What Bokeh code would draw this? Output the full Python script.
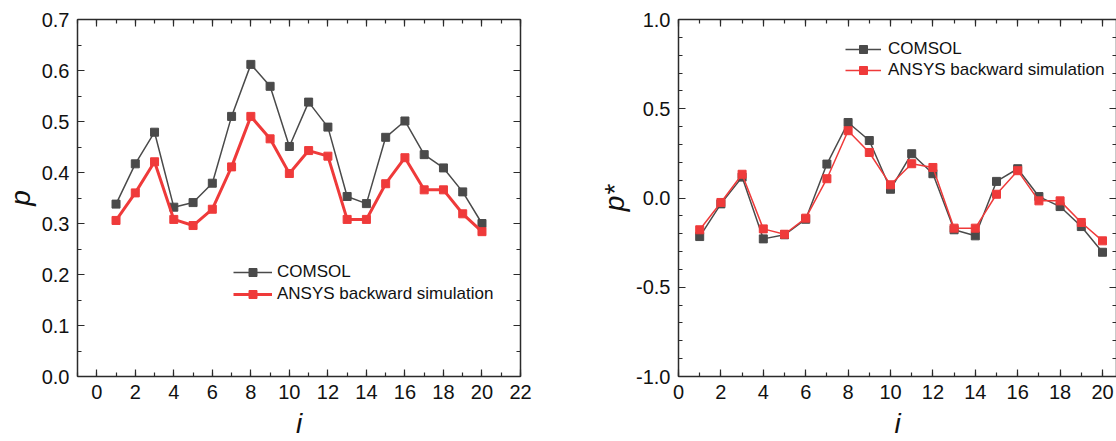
from bokeh.plotting import figure
from bokeh.layouts import row
from bokeh.models import LinearAxis, FixedTicker, NumeralTickFormatter, Range1d, Legend
from bokeh.embed import file_html
from bokeh.resources import INLINE

i_vals = list(range(1, 21))
p_comsol = [0.338, 0.417, 0.479, 0.332, 0.341, 0.379, 0.510, 0.612, 0.569, 0.451,
            0.538, 0.489, 0.353, 0.339, 0.469, 0.501, 0.435, 0.409, 0.362, 0.300]
p_ansys = [0.306, 0.360, 0.421, 0.308, 0.296, 0.328, 0.411, 0.510, 0.466, 0.398,
           0.443, 0.432, 0.308, 0.308, 0.378, 0.429, 0.366, 0.366, 0.319, 0.284]
ps_comsol = [-0.216, -0.033, 0.117, -0.229, -0.206, -0.119, 0.190, 0.423, 0.322, 0.049,
             0.248, 0.136, -0.178, -0.212, 0.093, 0.164, 0.008, -0.048, -0.160, -0.304]
ps_ansys = [-0.178, -0.025, 0.133, -0.173, -0.203, -0.113, 0.108, 0.377, 0.255, 0.074,
            0.192, 0.171, -0.169, -0.169, 0.021, 0.153, -0.016, -0.016, -0.137, -0.240]

left_yticks = [0.0, 0.1, 0.2, 0.3, 0.4, 0.5, 0.6, 0.7]
right_yticks = [-1.0, -0.5, 0.0, 0.5, 1.0]
xticks = [0, 2, 4, 6, 8, 10, 12, 14, 16, 18, 20, 22]

FONT = "Liberation Sans"
GRAY = "#4a4a4a"
RED = "#ef3a3a"
AXC = "#2b2b2b"


def style_axis(ax, show_labels=True):
    ax.axis_line_color = AXC
    ax.axis_line_width = 1.5
    ax.major_tick_line_color = AXC
    ax.minor_tick_line_color = AXC
    ax.major_tick_line_width = 1.2
    ax.minor_tick_line_width = 1.2
    ax.major_tick_in = 7
    ax.major_tick_out = 0
    ax.minor_tick_in = 4
    ax.minor_tick_out = 0
    ax.major_label_text_font = FONT
    if show_labels:
        ax.major_label_text_color = "#111111"
        ax.major_label_text_font_size = "20px"
        ax.major_label_standoff = 8
    else:
        ax.major_label_text_color = None
        ax.major_label_text_font_size = "1px"
        ax.major_label_standoff = 0


def make_panel(width, mb_left, mb_right, xr, yr, yticks, yminor, yfmt, ylabel,
               comsol, ansys, ansys_lw, leg_loc, glyph_w, standoff, spacing):
    p = figure(width=width, height=441, output_backend="svg", toolbar_location=None,
               x_range=Range1d(*xr), y_range=Range1d(*yr),
               min_border_left=mb_left, min_border_right=mb_right,
               min_border_top=19, min_border_bottom=10)
    p.outline_line_color = None
    p.grid.visible = False
    p.background_fill_color = "white"
    p.border_fill_color = "white"

    xt = FixedTicker(ticks=xticks, minor_ticks=list(range(-1, 24)))
    yt = FixedTicker(ticks=yticks, minor_ticks=yminor)

    p.xaxis.ticker = xt
    p.yaxis.ticker = yt
    p.yaxis.formatter = NumeralTickFormatter(format=yfmt)
    for ax in p.xaxis + p.yaxis:
        style_axis(ax)
    p.xaxis.axis_label = "i"
    p.yaxis.axis_label = ylabel
    for ax in p.xaxis + p.yaxis:
        ax.axis_label_text_font = FONT
        ax.axis_label_text_font_style = "italic"
        ax.axis_label_text_font_size = "28px"
        ax.axis_label_text_color = "#111111"
        ax.axis_label_standoff = 3
    p.xaxis.axis_label_standoff = 6

    top = LinearAxis(ticker=xt)
    style_axis(top, show_labels=False)
    p.add_layout(top, "above")
    right = LinearAxis(ticker=yt)
    style_axis(right, show_labels=False)
    p.add_layout(right, "right")

    r1 = p.line(i_vals, comsol, line_color=GRAY, line_width=1.5)
    s1 = p.scatter(i_vals, comsol, marker="square", size=8, fill_color=GRAY, line_color=GRAY)
    r2 = p.line(i_vals, ansys, line_color=RED, line_width=ansys_lw)
    s2 = p.scatter(i_vals, ansys, marker="square", size=8, fill_color=RED, line_color=RED)

    leg = Legend(items=[("COMSOL", [r1, s1]), ("ANSYS backward simulation", [r2, s2])],
                 location=leg_loc)
    leg.border_line_color = None
    leg.background_fill_alpha = 0
    leg.padding = 0
    leg.margin = 0
    leg.spacing = spacing
    leg.glyph_width = glyph_w
    leg.glyph_height = 20
    leg.label_height = 20
    leg.label_standoff = standoff
    leg.label_text_font = FONT
    leg.label_text_font_size = "17px"
    leg.label_text_color = "#111111"
    p.add_layout(leg, "center")
    return p


left = make_panel(596, 77, 76, (-1, 22), (0, 0.7), left_yticks,
                  [round(0.05 * k, 2) for k in range(0, 15)], "0.0", "p",
                  p_comsol, p_ansys, 3, (156, 72), 39, 5, 2)
right = make_panel(520, 82, 0, (0, 20.66), (-1, 1), right_yticks,
                   [round(-1 + 0.1 * k, 2) for k in range(0, 21)], "0.0", "p*",
                   ps_comsol, ps_ansys, 1.5, (167, 296), 36, 7, 1)

layout = row(left, right)
open("out.html", "w").write(file_html(layout, INLINE))
